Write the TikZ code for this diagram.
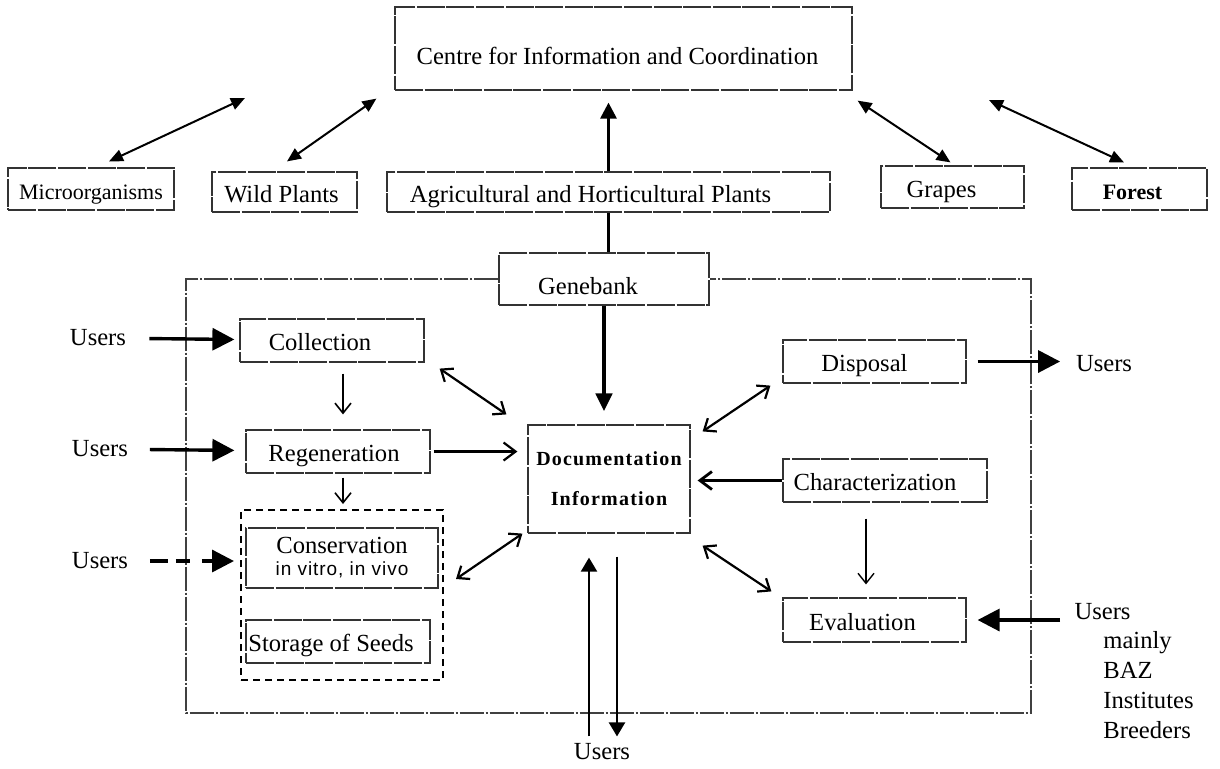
\documentclass[tikz,border=0pt]{standalone}
\usepackage{fontspec}
\setmainfont{Liberation Serif}
\newfontfamily\vitrofont[LetterSpace=5]{Liberation Sans}
\newfontfamily\docfont[LetterSpace=6]{Liberation Serif}
\usetikzlibrary{arrows.meta}
\begin{document}
\begin{tikzpicture}[x=0.5pt,y=-0.5pt]

  \tikzstyle{frame}=[shape=rectangle, draw=black!80, line width=0.6pt, inner sep=0pt, dash pattern=on 14pt off 0.8pt]

  \tikzstyle{box}=[frame, text height=10pt, text depth=0pt]

  \tikzstyle{groupBox}=[shape=rectangle, draw, line width=1pt, dash pattern=on 3.5pt off 2.5pt, inner sep=0pt]

  \tikzstyle{enclosure}=[draw=black!75, line width=0.6pt, dash pattern=on 12pt off 1pt on 1pt off 1pt]

  \tikzstyle{usersText}=[inner sep=0pt]

  \tikzstyle{lineUsers}=[line width=1.7pt, -{Triangle[length=11pt,width=11pt]}]

  \tikzstyle{lineDouble}=[line width=1pt, {Triangle[length=7pt,width=6pt]}-{Triangle[length=7pt,width=6pt]}]

  \tikzstyle{lineOpen}=[line width=1.1pt, {Straight Barb[length=5pt,width=8pt]}-{Straight Barb[length=5pt,width=8pt]}]

  \tikzstyle{lineMid}=[line width=1.1pt, -{Straight Barb[length=6pt,width=9pt]}]

  \tikzstyle{lineThin}=[line width=0.8pt, -{Straight Barb[length=5pt,width=8pt]}]

  \tikzstyle{lineBold}=[line width=1.5pt, -{Triangle[length=8pt,width=8pt]}]

  \tikzstyle{lineGene}=[line width=2.2pt, -{Triangle[length=9pt,width=8pt]}]

  \tikzstyle{lineBottom}=[line width=1.1pt, -{Triangle[length=7pt,width=8pt]}]

\fontsize{12.3}{15}\selectfont
\useasboundingbox (0,0) rectangle (1220,768);

%% nodes or vertices

\node (Centre)[box, text height=15.5pt, minimum width=228.5pt, minimum height=41.5pt] at (623.5,48.5) {Centre for Information and Coordination\hspace*{6pt}};

\node (Micro)[box, minimum width=83pt, minimum height=21pt, font=\fontsize{11}{13}\selectfont] at (91,189) {Microorganisms};
\node (Wild)[box, minimum width=72.5pt, minimum height=20pt] at (284.5,192) {Wild Plants\hspace*{3pt}};
\node (Agri)[box, minimum width=221.5pt, minimum height=20pt] at (608.5,192) {Agricultural and Horticultural Plants\hspace*{18pt}};
\node (Grape)[box, minimum width=71.5pt, minimum height=21pt] at (952.5,187) {Grapes\hspace*{11pt}};
\node (Forest)[box, minimum width=67.5pt, minimum height=21pt, font=\fontsize{11}{13}\selectfont\bfseries] at (1139.5,189) {Forest\hspace*{7pt}};

\coordinate (mc) at (245,98);
\coordinate (fc) at (989,100);

\node (Gene)[box, text height=15pt, minimum width=105pt, minimum height=26pt] at (604,279) {Genebank\hspace*{16pt}};

\node (Doc)[frame, minimum width=81pt, minimum height=54pt, align=center, font={\docfont\bfseries\fontsize{10}{20}\selectfont}] at (609,479) {Documentation\\Information};

\node (Coll)[box, minimum width=92pt, minimum height=21.5pt] at (332,340.5) {Collection\hspace*{12pt}};
\node (Regen)[box, minimum width=92pt, minimum height=21.5pt] at (338,451.5) {Regeneration\hspace*{4pt}};
\node (Group)[groupBox, minimum width=101pt, minimum height=85pt] at (342,595) {};
\node (Cons)[frame, minimum width=96pt, minimum height=30pt, align=center] at (342,558) {Conservation\\[-4pt]{\vitrofont\fontsize{9.5}{11}\selectfont in vitro, in vivo}};
\node (Store)[box, minimum width=92pt, minimum height=21.5pt] at (338,641.5) {Storage of Seeds\hspace*{7pt}};

\node (Disp)[box, minimum width=91.5pt, minimum height=21.5pt] at (874.5,361.5) {Disposal\hspace*{10pt}};
\node (Char)[box, minimum width=102pt, minimum height=21.5pt] at (885,480.5) {Characterization\hspace*{10pt}};
\node (Eval)[box, minimum width=91.5pt, minimum height=22pt] at (874.5,620) {Evaluation\hspace*{12pt}};

\node (U1)[usersText] at (98,338) {Users};
\node (U2)[usersText] at (100,449) {Users};
\node (U3)[usersText] at (100,561) {Users};
\node (U4)[usersText] at (1104,364) {Users};
\node (U5)[usersText] at (1102.5,612) {Users};
\node (Info)[usersText, anchor=north west, align=left] at (1103,631) {mainly\\BAZ\\Institutes\\Breeders};
\node (UB)[usersText] at (602,752) {Users};

%% genebank frame
\coordinate (encSW) at (186,713);
\coordinate (encNE) at (1031,279);
\draw[enclosure] (Gene.west) -| (encSW) -| (encNE) -- (Gene.east);

%% edges or lines

\path
	(mc) edge[lineDouble] ([xshift=9pt,yshift=3pt]Micro.north)
	([xshift=1.25pt,yshift=5pt]Wild.north) edge[lineDouble] ([xshift=-9pt,yshift=-4pt]Centre.south west)
	([xshift=2.5pt,yshift=-5pt]Centre.south east) edge[lineDouble] ([xshift=-1pt,yshift=1.5pt]Grape.north)
	(fc) edge[lineDouble] ([xshift=-7.75pt,yshift=2.5pt]Forest.north)

	(Agri.north) edge[lineBold, shorten >=6pt] (Agri.north |- Centre.south)
	(Agri.south) edge[line width=1.7pt] (Agri.south |- Gene.north)
	(Gene.south) edge[lineGene, shorten >=6.5pt] (Gene.south |- Doc.north)
;

\path
	(U1) edge[lineUsers, shorten <=11.5pt, shorten >=2.5pt] (Coll)
	(U2) edge[lineUsers, shorten <=10.75pt, shorten >=5.5pt] (Regen)
	(U3) edge[lineUsers, dash pattern=on 9pt off 4pt on 7pt off 6pt on 40pt off 0pt, shorten <=10.75pt, shorten >=3pt] (U3 -| Group.west)
	(Disp.east) edge[lineUsers, shorten <=5.5pt, shorten >=7.75pt] (Disp.east -| U4.west)
	(U5.west |- Eval.east) edge[lineUsers, shorten <=7pt, shorten >=5.5pt] (Eval.east)

	([xshift=7.5pt,yshift=-3pt]Coll.south east) edge[lineOpen] ([xshift=-10.5pt,yshift=5pt]Doc.north west)
	([xshift=5.5pt,yshift=-5.5pt]Coll.south) edge[lineThin] ([xshift=2.5pt,yshift=7.5pt]Regen.north)
	(Regen.east) edge[lineMid, shorten <=1.5pt, shorten >=5pt] (Regen.east -| Doc.west)
	([xshift=2.5pt]Regen.south) edge[lineThin, shorten <=2pt, shorten >=2.5pt] ([xshift=2.5pt]Regen.south |- Group.north)
	([xshift=6pt,yshift=8pt]Group.east) edge[lineOpen] ([xshift=-2.5pt]Doc.south west)

	([xshift=6pt,yshift=-3.5pt]Doc.north east) edge[lineOpen] ([xshift=-6pt,yshift=-1pt]Disp.south west)
	(Char.west) edge[lineMid, line width=1.4pt, shorten >=3.5pt] (Char.west -| Doc.east)
	([xshift=-9.5pt,yshift=-8pt]Char.south) edge[lineThin, line width=0.7pt, shorten >=6.5pt] ([xshift=-9.5pt]Char.south |- Eval.north)
	([xshift=6pt,yshift=-6pt]Doc.south east) edge[lineOpen] ([xshift=-5.5pt,yshift=3pt]Eval.north west)

	([xshift=-6.5pt,yshift=3.5pt]UB.north) edge[lineBottom, shorten >=12pt] ([xshift=-6.5pt]UB.north |- Doc.south)
	([xshift=7.5pt]UB.north |- Doc.south) edge[lineBottom, shorten <=11.5pt] ([xshift=7.5pt,yshift=3.5pt]UB.north)
;
\end{tikzpicture}
\end{document}
